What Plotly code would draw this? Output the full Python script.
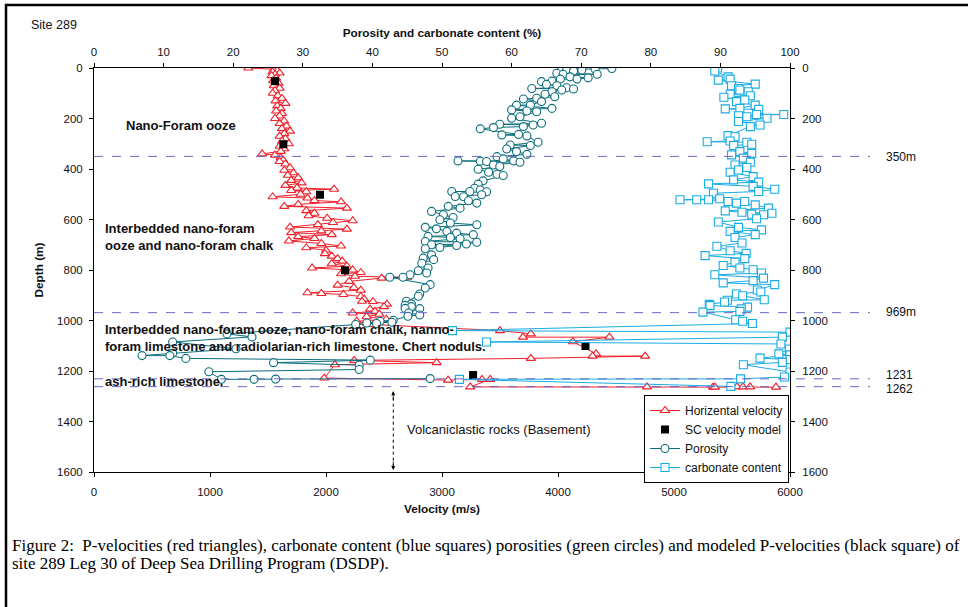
import plotly.graph_objects as go

# ---------------- DATA ----------------
# Horizontal P-velocity (m/s) vs depth (m)
vel_depth = [0, 5, 10, 15, 20, 25, 30, 40, 50, 60, 70, 80, 90, 100, 110, 120, 130, 140, 150, 160,
             170, 180, 190, 200, 210, 220, 230, 240, 250, 260, 270, 280, 290, 300, 310, 320, 330, 340, 345, 355,
             365, 370, 380, 395, 405, 415, 425, 435, 445, 455, 465, 475, 480, 485, 490, 500, 510, 515, 525, 530,
             540, 548, 555, 565, 575, 585, 595, 605, 612, 620, 630, 638, 645, 652, 660, 668, 675, 685, 695, 705,
             712, 722, 735, 745, 755, 765, 775, 785, 792, 800, 810, 815, 825, 829, 832, 845, 860, 870, 880, 890,
             893, 897, 905, 915, 924, 925, 935, 945, 955, 964, 970, 975, 985, 995, 1003, 1010, 1016,
             1040, 1053, 1066, 1066, 1084, 1132, 1141, 1141, 1150, 1158, 1167, 1175, 1228, 1236, 1233, 1233,
             1263, 1263, 1264, 1264, 1263, 1263, 1263, 1264]
vel_value = [1330, 1550, 1580, 1540, 1600, 1560, 1530, 1570, 1545, 1590, 1550, 1600, 1560, 1540, 1585, 1620, 1565, 1650, 1580, 1610,
             1570, 1620, 1600, 1560, 1640, 1600, 1660, 1620, 1690, 1640, 1600, 1650, 1620, 1680, 1600, 1640, 1610, 1450, 1560, 1610,
             1630, 1600, 1650, 1690, 1640, 1720, 1670, 1760, 1700, 1790, 1650, 1750, 2070, 1700, 1830, 1780, 1540, 1840, 1900, 2130,
             1760, 1640, 2180, 1830, 1900, 1850, 2010, 2230, 2060, 1930, 1690, 2180, 1960, 1700, 2050, 1760, 1900, 1680, 1960, 2130,
             1830, 2000, 1990, 2050, 2100, 2140, 2050, 2180, 1880, 2230, 2300, 2130, 2250, 2700, 2480, 2200, 2100, 2240, 2300, 1840,
             1960, 2150, 2300, 2330, 2310, 2405, 2525, 2500, 2380, 2422, 2230, 2460, 2350, 2520, 2265, 2351, 2408,
             3500, 3766, 3698, 4443, 4129, 4329, 4298, 4751, 3766, 2243, 2954, 2077, 1985, 3052, 3345, 3416,
             3243, 4767, 5336, 5353, 5543, 5595, 5655, 5879]

# SC velocity model (m/s)
sc_depth = [52, 302, 502, 801, 1101, 1216]
sc_value = [1560, 1632, 1948, 2164, 4237, 3268]

# Porosity (%)
por_depth = [2, 4, 4, 8, 8, 12, 21, 25, 25, 35, 39, 44, 44, 52, 54, 65, 70, 78, 81, 83,
             87, 94, 104, 114, 120, 123, 133, 147, 147, 160, 166, 170, 173, 193, 199, 219, 223, 226, 232, 236,
             241, 263, 265, 269, 294, 305, 307, 321, 331, 342, 351, 360, 368, 368, 369, 370, 373, 384, 390, 401,
             413, 421, 426, 447, 460, 476, 483, 489, 489, 490, 502, 509, 510, 526, 535, 548, 555, 568, 581, 592,
             601, 614, 621, 631, 637, 647, 654, 660, 667, 671, 676, 687, 690, 697, 700, 703, 711, 716, 740, 753,
             759, 773, 792, 803, 812, 819, 829, 829, 858, 871, 895, 904, 924, 934, 940, 945, 952, 953, 970, 978,
             983, 999, 1003, 1007, 1010, 1012, 1016,
             1053, 1065, 1085, 1112, 1130, 1139, 1139, 1150, 1157, 1167, 1177, 1194, 1203, 1233, 1233, 1232, 1230]
por_value = [74.4, 72.0, 67.2, 70.1, 67.9, 68.9, 66.5, 72.3, 67.4, 68.4, 71.0, 69.4, 67.0, 65.8, 64.3, 65.0, 66.5, 67.9, 62.9, 68.9,
             67.2, 65.8, 64.8, 66.2, 63.6, 61.7, 64.3, 62.7, 60.7, 65.8, 60.0, 62.2, 63.6, 61.2, 60.0, 64.3, 58.3, 63.1, 61.7, 57.4,
             55.5, 61.0, 58.6, 62.2, 63.8, 59.8, 62.7, 59.3, 60.7, 62.2, 57.9, 58.8, 60.3, 52.3, 55.5, 56.4, 61.2, 57.4, 58.3, 55.2,
             56.7, 57.9, 58.8, 55.9, 55.2, 54.7, 55.5, 54.0, 51.4, 56.4, 55.7, 51.9, 53.1, 53.8, 55.0, 50.9, 52.6, 48.5, 50.2, 51.6,
             49.7, 51.2, 55.0, 47.6, 49.2, 50.7, 52.1, 54.5, 48.0, 51.2, 52.6, 47.6, 55.0, 53.5, 48.5, 52.1, 49.7, 47.6, 48.5, 47.3,
             48.8, 47.1, 48.0, 46.6, 47.8, 45.4, 44.4, 42.5, 48.3, 47.6, 46.8, 46.6, 44.9, 45.6, 44.7, 45.6, 44.7, 46.8, 45.2, 46.8,
             45.1, 43.0, 41.1, 42.8, 39.2, 40.6, 37.6,
             19.1, 22.7, 11.3, 20.4, 11.3, 6.9, 10.9, 13.2, 39.7, 25.8, 38.1, 38.1, 16.5, 18.3, 23.0, 26.1, 48.3]

# Carbonate content (%)
carb_depth = [0, 12, 35, 44, 48, 64, 70, 81, 87, 94, 104, 110, 116, 127, 133, 147, 160, 162, 164, 184,
              184, 189, 193, 199, 212, 226, 232, 268, 272, 289, 292, 294, 302, 307, 331, 338, 344, 357, 373, 384,
              394, 404, 413, 430, 443, 452, 459, 469, 480, 489, 496, 518, 522, 522, 522, 529, 529, 535, 542, 555,
              566, 571, 575, 579, 581, 597, 610, 631, 641, 647, 660, 671, 693, 706, 724, 734, 743, 755, 769, 782,
              792, 799, 812, 819, 832, 842, 851, 858, 879, 887, 895, 902, 918, 920, 927, 936, 941, 947, 954, 964,
              967, 997, 1003, 1012,
              1040, 1046, 1066, 1085, 1093, 1113, 1132, 1136, 1149, 1155, 1166, 1175, 1204, 1224, 1231, 1233, 1261]
carb_value = [89.6, 89.2, 91.1, 91.4, 89.7, 95.0, 91.6, 92.6, 92.8, 94.0, 91.4, 94.3, 90.5, 93.5, 92.3, 95.0, 92.8, 90.7, 95.5, 95.2,
              99.1, 92.6, 93.8, 96.7, 92.6, 95.7, 94.3, 91.1, 92.1, 91.4, 88.1, 93.8, 94.5, 91.9, 92.8, 94.5, 91.6, 93.3, 94.3, 92.1,
              93.8, 92.6, 91.4, 94.7, 91.9, 95.5, 88.3, 94.7, 97.8, 95.5, 89.0, 89.9, 84.2, 86.6, 88.3, 91.1, 93.5, 92.3, 95.0, 96.9,
              90.7, 93.1, 97.4, 94.5, 96.2, 95.2, 89.7, 92.6, 95.9, 91.4, 95.0, 92.1, 93.1, 89.5, 91.4, 93.7, 87.8, 93.5, 92.1, 90.4,
              92.8, 94.7, 95.9, 89.2, 96.2, 94.7, 90.4, 97.8, 95.3, 95.8, 92.3, 93.2, 96.3, 91.0, 90.6, 88.4, 88.5, 93.9, 93.0, 92.8,
              87.5, 92.2, 93.2, 94.6,
              51.5, 100.0, 98.9, 56.4, 98.7, 99.9, 98.4, 100.0, 95.7, 100.0, 98.9, 93.3, 100.0, 99.2, 92.9, 52.5, 91.5]

# Lithological boundaries
boundary_depths = [350, 969, 1231, 1262]
boundary_labels = ["350m", "969m", "1231", "1262"]

vel_ticks = [0, 1000, 2000, 3000, 4000, 5000, 6000]
pct_ticks = [0, 10, 20, 30, 40, 50, 60, 70, 80, 90, 100]
depth_ticks = [0, 200, 400, 600, 800, 1000, 1200, 1400, 1600]

# ---------------- STYLE ----------------
W, H = 968, 607
L, R, T, B = 94, 790, 68, 472
RED = "#F0202A"
TEAL = "#0B6E7C"
BLUE = "#1AABE3"
DASH = "#6868C4"
FONT = "Arial, Liberation Sans, sans-serif"
SERIF = "Liberation Serif, Times New Roman, serif"


def px(x):
    return (x - L) / (R - L)


def py(y):
    return (B - y) / (B - T)


fig = go.Figure()
fig.add_trace(go.Scatter(
    x=vel_value, y=vel_depth, mode="lines+markers", name="Horizental velocity",
    line=dict(color=RED, width=1),
    marker=dict(symbol="triangle-up", size=8, color="white", line=dict(color=RED, width=1.1)),
    xaxis="x", yaxis="y"))
fig.add_trace(go.Scatter(
    x=sc_value, y=sc_depth, mode="markers", name="SC velocity model",
    marker=dict(symbol="square", size=8, color="black"),
    xaxis="x", yaxis="y"))
fig.add_trace(go.Scatter(
    x=por_value, y=por_depth, mode="lines+markers", name="Porosity",
    line=dict(color=TEAL, width=1),
    marker=dict(symbol="circle", size=8, color="white", line=dict(color=TEAL, width=1.1)),
    xaxis="x2", yaxis="y2"))
fig.add_trace(go.Scatter(
    x=carb_value, y=carb_depth, mode="lines+markers", name="carbonate content",
    line=dict(color=BLUE, width=1),
    marker=dict(symbol="square", size=8, color="white", line=dict(color=BLUE, width=1.1)),
    xaxis="x2", yaxis="y2"))

axis_common = dict(showgrid=False, zeroline=False, showline=True, linecolor="black", linewidth=1,
                   ticks="outside", ticklen=4, tickcolor="black",
                   tickfont=dict(family=FONT, size=11.5, color="#111"))
title_font = dict(family=FONT, size=11.8, color="#111")

fig.update_layout(
    width=W, height=H,
    margin=dict(l=L, r=W - R, t=T, b=H - B, pad=0),
    paper_bgcolor="white", plot_bgcolor="white",
    font=dict(family=FONT, size=11, color="#111"),
    showlegend=True,
    legend=dict(x=px(789), y=py(395), xanchor="right", yanchor="top",
                bgcolor="white", bordercolor="black", borderwidth=1,
                font=dict(family=FONT, size=12, color="#111"),
                tracegroupgap=0, itemwidth=30),
    xaxis=dict(range=[0, 6000], tickvals=vel_ticks, anchor="y", side="bottom", ticklabelstandoff=5,
               title=dict(text="<b>Velocity (m/s)</b>", font=title_font, standoff=7),
               **axis_common),
    xaxis2=dict(range=[0, 100], tickvals=pct_ticks, overlaying="x", side="top", anchor="y", ticklabelstandoff=2,
                title=dict(text="<b>Porosity and carbonate content (%)</b>", font=title_font, standoff=6),
                **axis_common),
    yaxis=dict(range=[1600, 0], tickvals=depth_ticks, anchor="x", side="left", ticklabelstandoff=4,
               title=dict(text="<b>Depth (m)</b>", font=title_font, standoff=10),
               **axis_common),
    yaxis2=dict(range=[1600, 0], tickvals=depth_ticks, overlaying="y", side="right", anchor="x",
                ticklabelstandoff=5, **axis_common),
)

shapes = []
for d in boundary_depths:
    shapes.append(dict(type="line", xref="paper", yref="y", x0=0, x1=px(870), y0=d, y1=d,
                       line=dict(color=DASH, width=1, dash="dash")))
# basement arrow stem
shapes.append(dict(type="line", xref="x", yref="y", x0=2580, x1=2580, y0=1282, y1=1590,
                   line=dict(color="black", width=1, dash="dot")))
# outer figure frame
shapes.append(dict(type="rect", xref="paper", yref="paper", x0=px(6), x1=px(980), y0=py(620), y1=py(5),
                   line=dict(color="black", width=2.5), fillcolor="rgba(0,0,0,0)", layer="above"))
fig.update_layout(shapes=shapes)

ann = []
for d, lab, ypix in zip(boundary_depths, boundary_labels, [157, 312, 375, 389]):
    ann.append(dict(text=lab, xref="paper", yref="paper", x=px(884), y=py(ypix),
                    xanchor="left", yanchor="middle", showarrow=False,
                    font=dict(family=FONT, size=12, color="#111")))


def label(text, x, y, bold=True, size=13, family=FONT, color="#111"):
    return dict(text=f"<b>{text}</b>" if bold else text, xref="paper", yref="paper",
                x=px(x), y=py(y), xanchor="left", yanchor="middle", align="left",
                showarrow=False, font=dict(family=family, size=size, color=color))


ann += [
    label("Site 289", 29, 25, bold=False, size=12.5),
    label("Nano-Foram ooze", 124, 125),
    label("Interbedded nano-foram<br>ooze and nano-foram chalk", 103, 237),
    label("Interbedded nano-foram ooze, nano-foram chalk, nanno-<br>foram limestone and radiolarian-rich limestone. Chert noduls.", 103, 337.5),
    label("ash-rich limestone.", 103, 381),
    label("Volcaniclastic rocks (Basement)", 405, 429, bold=False, size=13),
    label("Figure 2:  P-velocities (red triangles), carbonate content (blue squares) porosities (green circles) and modeled P-velocities (black square) of",
          10, 545, bold=False, size=17, family=SERIF, color="black"),
    label("site 289 Leg 30 of Deep Sea Drilling Program (DSDP).",
          10, 563, bold=False, size=17, family=SERIF, color="black"),
]
# arrowheads of the basement double arrow
ann.append(dict(x=2580, y=1280, xref="x", yref="y", ax=0, ay=10, text="", showarrow=True,
                arrowhead=2, arrowsize=1, arrowwidth=0.8, arrowcolor="black"))
ann.append(dict(x=2580, y=1592, xref="x", yref="y", ax=0, ay=-10, text="", showarrow=True,
                arrowhead=2, arrowsize=1, arrowwidth=0.8, arrowcolor="black"))
fig.update_layout(annotations=ann)

fig.write_html("out.html")
